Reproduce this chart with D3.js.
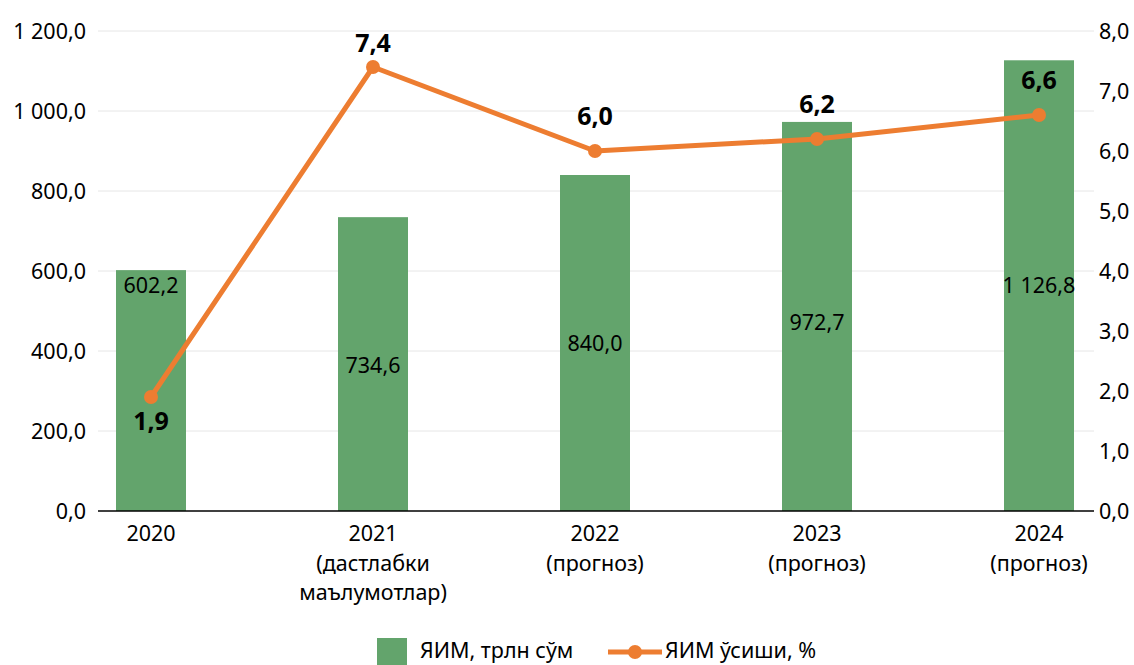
<!DOCTYPE html>
<html>
<head>
<meta charset="utf-8">
<script src="https://cdn.jsdelivr.net/npm/d3@7"></script>
<style>
  body { margin: 0; background: #fff; }
  text { font-family: "Noto Sans", "Open Sans", sans-serif; }
</style>
</head>
<body>
<script>
// chart data
var years = ["2020", "2021", "2022", "2023", "2024"];
var yearNotes = [[], ["(дастлабки", "маълумотлар)"], ["(прогноз)"], ["(прогноз)"], ["(прогноз)"]];
var gdp = [602.2, 734.6, 840.0, 972.7, 1126.8];
var growth = [1.9, 7.4, 6.0, 6.2, 6.6];
var gdpLabelAt = [565, 365, 420, 472, 565];   // where the bar value text sits (left-axis units)
var leftTicks = [0, 200, 400, 600, 800, 1000, 1200];
var rightTicks = [0, 1, 2, 3, 4, 5, 6, 7, 8];
var barName = "ЯИМ, трлн сўм";
var lineName = "ЯИМ ўсиши, %";

var width = 1134, height = 665;
var green = "#63a46c", orange = "#ed7d31";
var fs = "21.5px";

var svg = d3.select("body").append("svg")
  .attr("width", width)
  .attr("height", height);

var x = d3.scalePoint().domain(years).range([151, 1039]);
var yL = d3.scaleLinear().domain([0, 1200]).range([511, 31]);
var yR = d3.scaleLinear().domain([0, 8]).range([511, 31]);
var barW = 70;

function fmt(v) {
  // 1 126,8 style
  var s = v.toFixed(1).split(".");
  var intPart = s[0].replace(/\B(?=(\d{3})+(?!\d))/g, " ");
  return intPart + "," + s[1];
}

// gridlines
svg.append("g").selectAll("line")
  .data(leftTicks.slice(1))
  .enter().append("line")
  .attr("x1", 98).attr("x2", 1094)
  .attr("y1", d => yL(d)).attr("y2", d => yL(d))
  .attr("stroke", "#e6e6e6").attr("stroke-width", 1);

// left axis
var leftAxis = svg.append("g")
  .attr("transform", "translate(86,0)")
  .call(d3.axisLeft(yL).tickValues(leftTicks).tickSize(0).tickFormat(fmt));
leftAxis.select(".domain").remove();
leftAxis.selectAll("text")
  .attr("x", 0).attr("dy", "0.35em")
  .style("font-size", fs).attr("fill", "#000");

// right axis
var rightAxis = svg.append("g")
  .attr("transform", "translate(1099,0)")
  .call(d3.axisRight(yR).tickValues(rightTicks).tickSize(0).tickFormat(fmt));
rightAxis.select(".domain").remove();
rightAxis.selectAll("text")
  .attr("x", 0).attr("dy", "0.35em")
  .style("font-size", fs).attr("fill", "#000");

// bars
svg.selectAll("rect.bar")
  .data(gdp)
  .enter().append("rect")
  .attr("class", "bar")
  .attr("x", (d, i) => x(years[i]) - barW / 2)
  .attr("width", barW)
  .attr("y", d => yL(d))
  .attr("height", d => yL(0) - yL(d))
  .attr("fill", green);

// bar value labels
svg.selectAll("text.barval")
  .data(gdp)
  .enter().append("text")
  .attr("class", "barval")
  .attr("x", (d, i) => x(years[i]))
  .attr("y", (d, i) => yL(gdpLabelAt[i]))
  .attr("dy", "0.35em")
  .attr("text-anchor", "middle")
  .style("font-size", fs)
  .text(d => fmt(d));

// category axis line
svg.append("line")
  .attr("x1", 98).attr("x2", 1094)
  .attr("y1", yL(0)).attr("y2", yL(0))
  .attr("stroke", "#000").attr("stroke-width", 1.3);

// category labels
var cat = svg.append("g").selectAll("text")
  .data(years)
  .enter().append("text")
  .attr("x", d => x(d))
  .attr("y", 541)
  .attr("text-anchor", "middle")
  .style("font-size", fs);
cat.each(function(d, i) {
  var t = d3.select(this);
  [d].concat(yearNotes[i]).forEach(function(line, j) {
    t.append("tspan").attr("x", x(d)).attr("dy", j === 0 ? 0 : 29.5).text(line);
  });
});

// growth line
var line = d3.line()
  .x((d, i) => x(years[i]))
  .y(d => yR(d));
svg.append("path")
  .datum(growth)
  .attr("d", line)
  .attr("fill", "none")
  .attr("stroke", orange)
  .attr("stroke-width", 5)
  .attr("stroke-linejoin", "round");

svg.selectAll("circle.pt")
  .data(growth)
  .enter().append("circle")
  .attr("class", "pt")
  .attr("cx", (d, i) => x(years[i]))
  .attr("cy", d => yR(d))
  .attr("r", 7)
  .attr("fill", orange);

svg.selectAll("text.lineval")
  .data(growth)
  .enter().append("text")
  .attr("class", "lineval")
  .attr("x", (d, i) => x(years[i]))
  .attr("y", (d, i) => i === 0 ? yR(d) + 33 : Math.max(yR(d) - 26, 52))
  .attr("text-anchor", "middle")
  .style("font-size", "25px")
  .style("font-weight", "bold")
  .text(d => fmt(d));

// legend
var legend = svg.append("g");
legend.append("rect")
  .attr("x", 377).attr("y", 638)
  .attr("width", 30).attr("height", 27)
  .attr("fill", green);
legend.append("text")
  .attr("x", 420).attr("y", 658)
  .style("font-size", fs)
  .text(barName);
legend.append("line")
  .attr("x1", 608).attr("x2", 662)
  .attr("y1", 652).attr("y2", 652)
  .attr("stroke", orange).attr("stroke-width", 5);
legend.append("circle")
  .attr("cx", 635).attr("cy", 652).attr("r", 7)
  .attr("fill", orange);
legend.append("text")
  .attr("x", 665).attr("y", 658)
  .style("font-size", fs)
  .text(lineName);
</script>
</body>
</html>
